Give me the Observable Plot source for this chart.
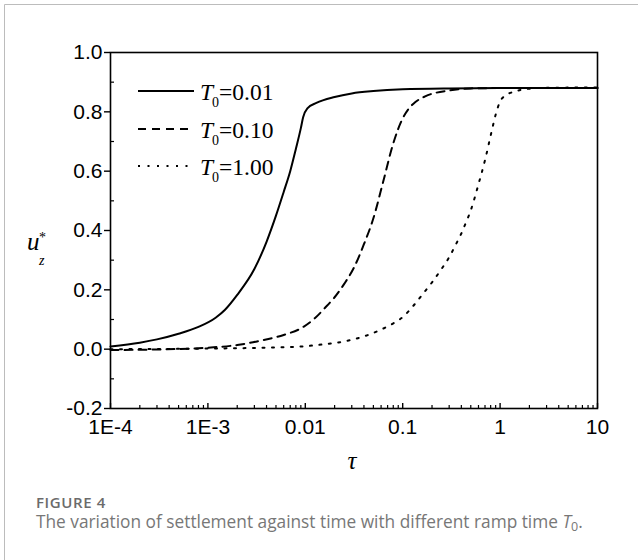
<!DOCTYPE html>
<html><head><meta charset="utf-8">
<script src="https://cdn.jsdelivr.net/npm/d3@7"></script>
<script src="https://cdn.jsdelivr.net/npm/@observablehq/plot@0.6"></script>
<style>
body{margin:0;background:#fff;}
#chart{position:relative;width:638px;height:560px;overflow:hidden;}
</style>
</head><body>
<div id="chart"></div>
<script>
// ---- data ----
const legendLabels = ["=0.01", "=0.10", "=1.00"];
const xMajor = [1e-4, 1e-3, 1e-2, 1e-1, 1, 10];
const xLabels = ["1E-4", "1E-3", "0.01", "0.1", "1", "10"];
const yMajor = [-0.2, 0.0, 0.2, 0.4, 0.6, 0.8, 1.0];
const yLabels = ["-0.2", "0.0", "0.2", "0.4", "0.6", "0.8", "1.0"];
const yMinor = [-0.1, 0.1, 0.3, 0.5, 0.7, 0.9];

// T0 = 0.01 (solid)
const tauSolid = [1e-4, 2e-4, 3e-4, 5e-4, 8e-4, 1.2e-3, 1.5e-3, 2e-3, 3e-3, 4e-3, 5e-3, 6e-3, 7e-3, 8e-3, 9e-3, 9.5e-3, 0.0105, 0.013, 0.02, 0.03, 0.05, 0.1, 0.3, 1, 10];
const uSolid   = [0.009, 0.022, 0.033, 0.052, 0.075, 0.106, 0.133, 0.183, 0.27, 0.362, 0.45, 0.53, 0.60, 0.675, 0.745, 0.782, 0.812, 0.83, 0.85, 0.862, 0.87, 0.876, 0.879, 0.88, 0.88];

// T0 = 0.10 (dashed)
const tauDashed = [1e-4, 3e-4, 1e-3, 2e-3, 3.5e-3, 6e-3, 9e-3, 0.0126, 0.0158, 0.02, 0.0251, 0.0316, 0.0398, 0.0501, 0.0631, 0.0794, 0.1, 0.115, 0.135, 0.17, 0.3, 0.5, 1, 10];
const uDashed   = [-0.003, -0.001, 0.005, 0.014, 0.029, 0.048, 0.07, 0.105, 0.138, 0.175, 0.22, 0.275, 0.352, 0.442, 0.565, 0.69, 0.778, 0.81, 0.833, 0.852, 0.872, 0.879, 0.88, 0.88];

// T0 = 1.00 (dotted)
const tauDotted = [1e-4, 1e-3, 5e-3, 0.01, 0.015, 0.025, 0.04, 0.06, 0.08, 0.1, 0.13, 0.16, 0.2, 0.25, 0.3, 0.35, 0.4, 0.45, 0.5, 0.55, 0.6, 0.7, 0.8, 0.9, 1.0, 1.1, 1.4, 2, 3, 10];
const uDotted   = [0.0, 0.002, 0.006, 0.01, 0.016, 0.026, 0.043, 0.066, 0.087, 0.108, 0.148, 0.185, 0.225, 0.27, 0.31, 0.352, 0.39, 0.43, 0.468, 0.512, 0.556, 0.637, 0.72, 0.79, 0.835, 0.852, 0.868, 0.878, 0.881, 0.882];

const toRows = (ts, us) => ts.map((t, i) => ({t, u: us[i]}));
const solid = toRows(tauSolid, uSolid);
const dashed = toRows(tauDashed, uDashed);
const dotted = toRows(tauDotted, uDotted);

const xLabelMap = new Map(xMajor.map((d, i) => [d, xLabels[i]]));
const yLabelMap = new Map(yMajor.map((d, i) => [d, yLabels[i]]));
const xMinor = [];
for (let e = -4; e < 1; e++) for (let k = 2; k <= 9; k++) xMinor.push(k * Math.pow(10, e));

const sans = "'Liberation Sans', Arial, sans-serif";
const serif = "'Liberation Serif', 'Times New Roman', serif";
const lineStyles = ["none", "8,6", "2,7.5"];

const plot = Plot.plot({
  width: 638,
  height: 560,
  marginLeft: 110,
  marginRight: 41,
  marginTop: 52,
  marginBottom: 152,
  x: {type: "log", domain: [1e-4, 10]},
  y: {domain: [-0.2, 1.0]},
  style: {background: "#fff", color: "#000", overflow: "visible", fontFamily: sans},
  marks: [
    Plot.line(solid, {x: "t", y: "u", stroke: "#000", strokeWidth: 2, curve: "monotone-x"}),
    Plot.line(dashed, {x: "t", y: "u", stroke: "#000", strokeWidth: 2, strokeDasharray: lineStyles[1], curve: "monotone-x"}),
    Plot.line(dotted, {x: "t", y: "u", stroke: "#000", strokeWidth: 2, strokeDasharray: lineStyles[2], curve: "monotone-x"}),
    Plot.ruleX(xMinor, {x: d => d, y1: -0.2, y2: -0.2, insetBottom: 3, stroke: "#000", strokeWidth: 1.2}),
    Plot.ruleX(xMajor, {x: d => d, y1: -0.2, y2: -0.2, insetBottom: 5, stroke: "#000", strokeWidth: 1.4}),
    Plot.ruleY(yMinor, {y: d => d, x1: 1e-4, x2: 1e-4, insetRight: -4, stroke: "#000", strokeWidth: 1.2}),
    Plot.axisX({ticks: xMajor, tickFormat: d => xLabelMap.get(d), tickSize: 0, tickPadding: 11, label: null, fill: "#000"}),
    Plot.axisY({ticks: yMajor, tickFormat: d => yLabelMap.get(d), tickSize: 6, tickPadding: 2, label: null, fill: "#000", strokeWidth: 1.4}),
    Plot.frame({stroke: "#000", strokeWidth: 1.6})
  ]
});
document.getElementById("chart").appendChild(plot);

const svg = d3.select(plot);
// tick-label typography (applied directly to the rendered axis texts)
svg.selectAll("text").each(function () {
  const g = this.closest("g[aria-label]");
  if (g && /tick label/.test(g.getAttribute("aria-label"))) {
    this.setAttribute("font-size", "21px");
    this.style.fontSize = "21px";
    this.setAttribute("font-family", sans);
  }
});

// decorations: border, legend, axis titles, caption
svg.append("line").attr("x1", 4.5).attr("y1", 4.5).attr("x2", 4.5).attr("y2", 560).attr("stroke", "#bcbcbc");
svg.append("line").attr("x1", 4.5).attr("y1", 4.5).attr("x2", 638).attr("y2", 4.5).attr("stroke", "#bcbcbc");

const deco = svg.append("g").attr("text-anchor", "start");
const rowsY = [91, 129, 166];
legendLabels.forEach((lab, i) => {
  const y = rowsY[i];
  deco.append("line").attr("x1", 138).attr("x2", 194).attr("y1", y).attr("y2", y)
    .attr("stroke", "#000").attr("stroke-width", 2)
    .attr("stroke-dasharray", lineStyles[i] === "none" ? null : lineStyles[i]);
  const t = deco.append("text").attr("x", 200).attr("y", y + 9).attr("text-anchor", "start")
    .attr("font-family", serif).attr("font-size", 23.5).attr("fill", "#000");
  t.append("tspan").attr("font-style", "italic").text("T");
  t.append("tspan").attr("font-size", 14).attr("dy", 7).attr("dx", -1).text("0");
  t.append("tspan").attr("dy", -7).text(lab);
});

// y axis title u*_z
deco.append("text").attr("x", 27).attr("y", 250).attr("font-family", serif).attr("font-size", 25)
  .attr("font-style", "italic").attr("fill", "#000").attr("text-anchor", "start").text("u");
deco.append("text").attr("x", 39).attr("y", 242).attr("font-family", serif).attr("font-size", 14)
  .attr("fill", "#000").attr("text-anchor", "start").text("*");
deco.append("text").attr("x", 39).attr("y", 265).attr("font-family", serif).attr("font-size", 14)
  .attr("font-style", "italic").attr("fill", "#000").attr("text-anchor", "start").text("z");

// x axis title tau
deco.append("text").attr("x", 352).attr("y", 469).attr("text-anchor", "middle")
  .attr("font-family", serif).attr("font-size", 25).attr("font-style", "italic").attr("fill", "#000").text("τ");

// caption
deco.append("text").attr("x", 36).attr("y", 508).attr("text-anchor", "start").attr("font-family", "'Open Sans', sans-serif")
  .attr("font-size", 15).attr("font-weight", 600).attr("letter-spacing", 0.6).attr("fill", "#6b6b6b").text("FIGURE 4");
const cap = deco.append("text").attr("x", 36).attr("y", 528).attr("text-anchor", "start").attr("font-family", "'Open Sans', sans-serif")
  .attr("font-size", 17.3).attr("fill", "#777");
cap.append("tspan").text("The variation of settlement against time with different ramp time ");
cap.append("tspan").attr("font-style", "italic").text("T");
cap.append("tspan").attr("font-size", 12.5).attr("dy", 3).text("0");
cap.append("tspan").attr("dy", -3).text(".");
</script>
</body></html>
